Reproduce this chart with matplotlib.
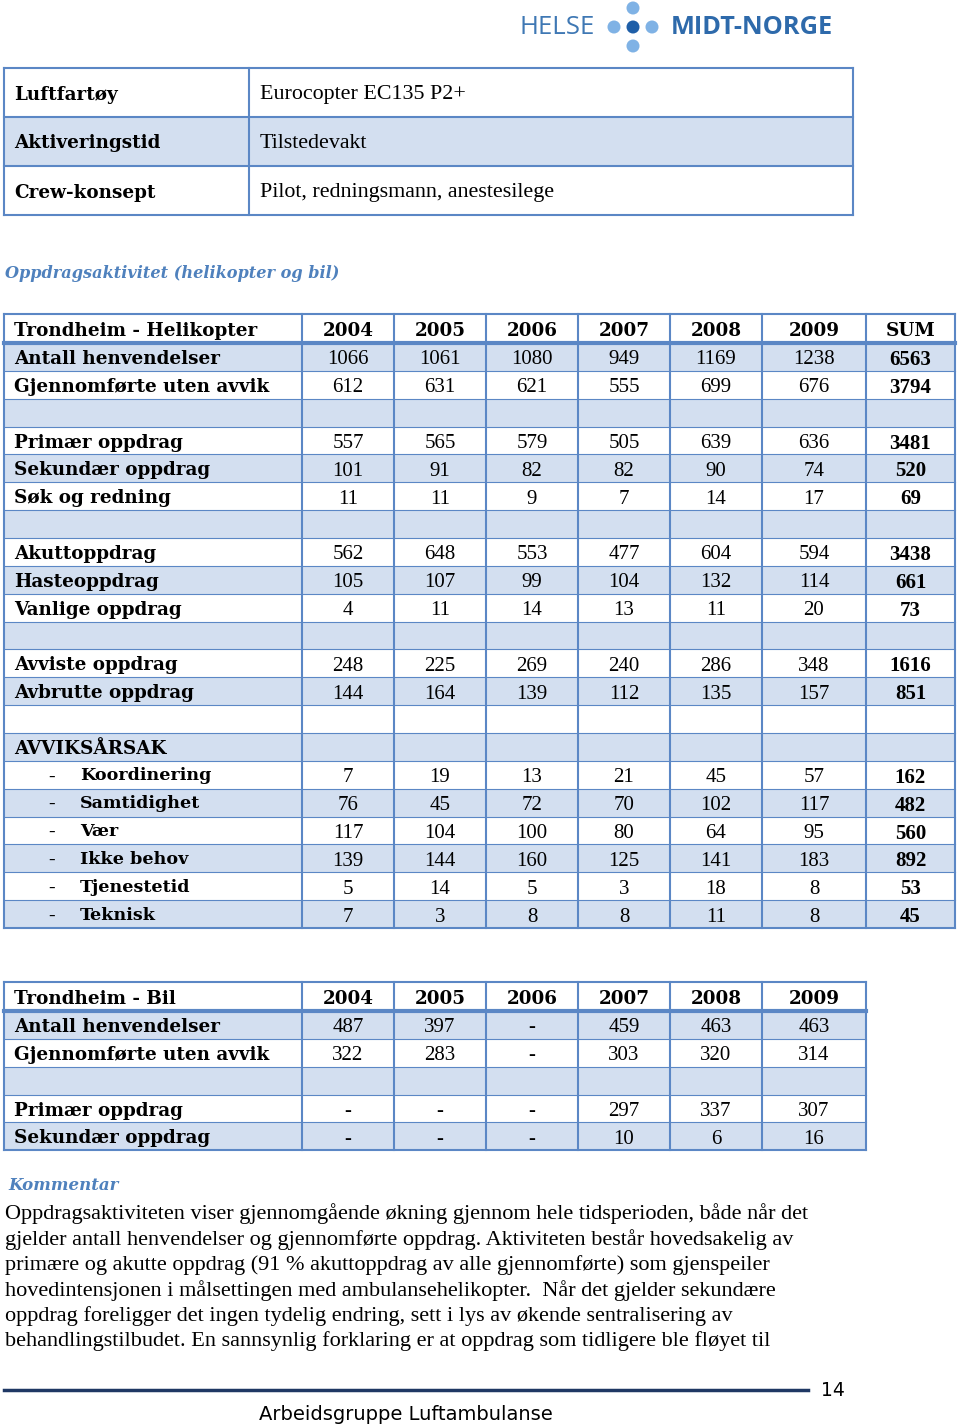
import matplotlib
matplotlib.use('Agg')
import matplotlib.pyplot as plt
from matplotlib.patches import Rectangle, Circle

# --- data ---
info_labels = ['Luftfartøy', 'Aktiveringstid', 'Crew-konsept']
info_values = ['Eurocopter EC135 P2+', 'Tilstedevakt', 'Pilot, redningsmann, anestesilege']

heli_title = 'Trondheim - Helikopter'
heli_cols = ['2004', '2005', '2006', '2007', '2008', '2009', 'SUM']
heli_rows = ['Antall henvendelser', 'Gjennomførte uten avvik', '',
             'Primær oppdrag', 'Sekundær oppdrag', 'Søk og redning', '',
             'Akuttoppdrag', 'Hasteoppdrag', 'Vanlige oppdrag', '',
             'Avviste oppdrag', 'Avbrutte oppdrag', '',
             'AVVIKSÅRSAK', '- Koordinering', '- Samtidighet', '- Vær',
             '- Ikke behov', '- Tjenestetid', '- Teknisk']
heli_values = [
    [1066, 1061, 1080, 949, 1169, 1238, 6563],
    [612, 631, 621, 555, 699, 676, 3794],
    None,
    [557, 565, 579, 505, 639, 636, 3481],
    [101, 91, 82, 82, 90, 74, 520],
    [11, 11, 9, 7, 14, 17, 69],
    None,
    [562, 648, 553, 477, 604, 594, 3438],
    [105, 107, 99, 104, 132, 114, 661],
    [4, 11, 14, 13, 11, 20, 73],
    None,
    [248, 225, 269, 240, 286, 348, 1616],
    [144, 164, 139, 112, 135, 157, 851],
    None,
    None,
    [7, 19, 13, 21, 45, 57, 162],
    [76, 45, 72, 70, 102, 117, 482],
    [117, 104, 100, 80, 64, 95, 560],
    [139, 144, 160, 125, 141, 183, 892],
    [5, 14, 5, 3, 18, 8, 53],
    [7, 3, 8, 8, 11, 8, 45],
]

bil_title = 'Trondheim - Bil'
bil_cols = ['2004', '2005', '2006', '2007', '2008', '2009']
bil_rows = ['Antall henvendelser', 'Gjennomførte uten avvik', '',
            'Primær oppdrag', 'Sekundær oppdrag']
bil_values = [
    ['487', '397', '-', '459', '463', '463'],
    ['322', '283', '-', '303', '320', '314'],
    None,
    ['-', '-', '-', '297', '337', '307'],
    ['-', '-', '-', '10', '6', '16'],
]

comment_lines = [
    'Oppdragsaktiviteten viser gjennomgående økning gjennom hele tidsperioden, både når det',
    'gjelder antall henvendelser og gjennomførte oppdrag. Aktiviteten består hovedsakelig av',
    'primære og akutte oppdrag (91 % akuttoppdrag av alle gjennomførte) som gjenspeiler',
    'hovedintensjonen i målsettingen med ambulansehelikopter.  Når det gjelder sekundære',
    'oppdrag foreligger det ingen tydelig endring, sett i lys av økende sentralisering av',
    'behandlingstilbudet. En sannsynlig forklaring er at oppdrag som tidligere ble fløyet til',
]

# --- styles ---
SHADE = '#d3dff0'
EDGE = '#5b87c5'
BLUE = '#4f81bd'
LABEL_FONT = 'DejaVu Serif'
NUM_FONT = 'Liberation Serif'
LAB_SIZE = 13.2
NUM_SIZE = 15

fig = plt.figure(figsize=(9.6, 14.28), dpi=100)
ax = fig.add_axes([0, 0, 1, 1])
ax.set_xlim(0, 960)
ax.set_ylim(1428, 0)
ax.axis('off')

# logo
ax.text(519, 27, 'HELSE', fontsize=18.5, family='Open Sans', color='#3f78b4',
        va='center', ha='left')
for cx, cy, col in [(614, 27, '#7fb2e5'), (633, 27, '#1f5fa8'), (652, 27, '#7fb2e5'),
                    (633, 8, '#7fb2e5'), (633, 46, '#7fb2e5')]:
    ax.add_patch(Circle((cx, cy), 6.5, color=col, lw=0))
ax.text(671, 27, 'MIDT-NORGE', fontsize=18.3, family='Open Sans', weight='bold',
        color='#2e6aab', va='center', ha='left')

# info table
t_top, t_h = 68, 49
for i, (lab, val) in enumerate(zip(info_labels, info_values)):
    y0 = t_top + i * t_h
    if i % 2 == 1:
        ax.add_patch(Rectangle((4, y0), 849, t_h, color=SHADE, lw=0))
    ax.text(14, y0 + t_h / 2 + 2, lab, fontsize=LAB_SIZE, family=LABEL_FONT,
            weight='bold', va='center')
    ax.text(260, y0 + t_h / 2 + 2, val, fontsize=15.8, family=NUM_FONT, va='center')
for k in range(len(info_labels) + 1):
    ax.plot([4, 853], [t_top + k * t_h] * 2, color=EDGE, lw=1.5)
for x in [4, 249, 853]:
    ax.plot([x, x], [t_top, t_top + len(info_labels) * t_h], color=EDGE, lw=1.5)

ax.text(5, 273, 'Oppdragsaktivitet (helikopter og bil)', fontsize=11.6,
        family=LABEL_FONT, weight='bold', style='italic', color=BLUE, va='center')


def draw_table(top, title, cols, rows, values, edges, bold_last):
    head_h, row_h = 29, 27.86
    right = edges[-1]
    ax.text(14, top + head_h / 2 + 2, title, fontsize=LAB_SIZE, family=LABEL_FONT,
            weight='bold', va='center')
    for j, c in enumerate(cols):
        xc = (edges[j + 1] + edges[j + 2]) / 2
        ax.text(xc, top + head_h / 2 + 2, c, fontsize=LAB_SIZE, family=LABEL_FONT,
                weight='bold', va='center', ha='center')
    body = top + head_h
    for i, lab in enumerate(rows):
        y0 = body + i * row_h
        yc = y0 + row_h / 2 + 2
        if i % 2 == 0:
            ax.add_patch(Rectangle((edges[0], y0), right - edges[0], row_h,
                                   color=SHADE, lw=0))
        if lab.startswith('- '):
            ax.text(48, yc, '-', fontsize=14, family=NUM_FONT, va='center')
            ax.text(80, yc - 1, lab[2:], fontsize=12.6, family=LABEL_FONT,
                    weight='bold', va='center')
        elif lab:
            ax.text(14, yc, lab, fontsize=LAB_SIZE, family=LABEL_FONT, weight='bold',
                    va='center')
        if values[i] is not None:
            for j, v in enumerate(values[i]):
                xc = (edges[j + 1] + edges[j + 2]) / 2
                bold = bold_last and j == len(values[i]) - 1
                ax.text(xc, yc + 1, str(v), fontsize=NUM_SIZE, family=NUM_FONT,
                        weight='bold' if bold else 'normal', va='center', ha='center')
    bottom = body + len(rows) * row_h
    for i in range(1, len(rows)):
        ax.plot([edges[0], right], [body + i * row_h] * 2, color=EDGE, lw=0.8)
    ax.plot([edges[0], right], [top, top], color=EDGE, lw=1.5)
    ax.plot([edges[0], right], [body, body], color=EDGE, lw=3)
    ax.plot([edges[0], right], [bottom, bottom], color=EDGE, lw=1.5)
    for x in edges:
        ax.plot([x, x], [top, bottom], color=EDGE, lw=1.5)


edges_h = [4, 302, 394, 486, 578, 670, 762, 866, 955]
draw_table(314, heli_title, heli_cols, heli_rows, heli_values, edges_h, True)
draw_table(982, bil_title, bil_cols, bil_rows, bil_values, edges_h[:-1], False)

ax.text(8, 1185, 'Kommentar', fontsize=12, family=LABEL_FONT, weight='bold',
        style='italic', color=BLUE, va='center')
for i, line in enumerate(comment_lines):
    ax.text(5, 1214 + i * 25.5, line, fontsize=16, family=NUM_FONT, va='center')

# footer
ax.plot([4, 808], [1390, 1390], color='#1f3864', lw=2.5)
ax.text(821, 1390, '14', fontsize=13.5, family=['Liberation Sans Narrow', 'DejaVu Sans'],
        va='center', ha='left')
ax.text(406, 1415, 'Arbeidsgruppe Luftambulanse', fontsize=14,
        family=['Liberation Sans Narrow', 'DejaVu Sans'], va='center', ha='center')

fig.savefig('out.png', dpi=100)
